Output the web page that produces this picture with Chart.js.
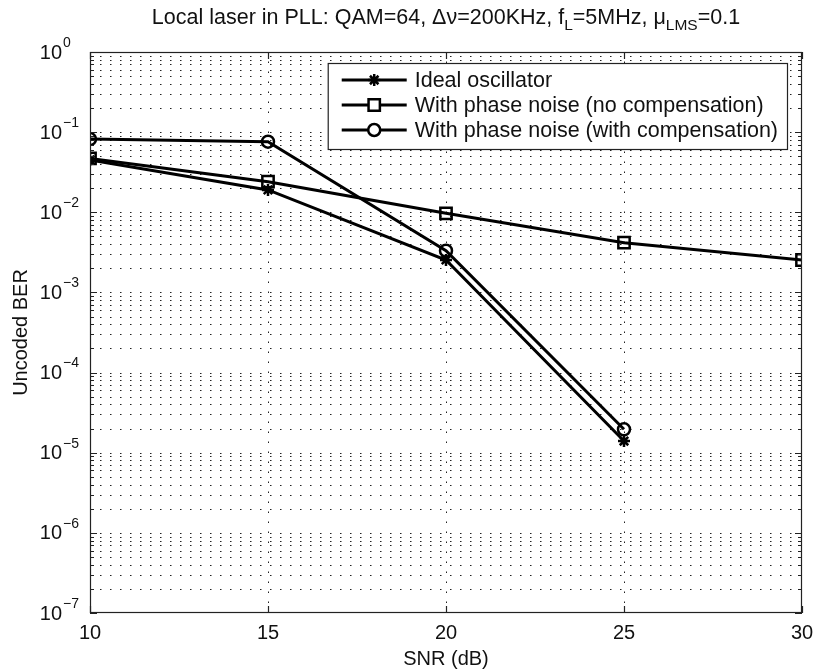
<!DOCTYPE html>
<html><head><meta charset="utf-8">
<script src="https://cdn.jsdelivr.net/npm/chart.js@4.4.0/dist/chart.umd.min.js"></script>
<style>html,body{margin:0;padding:0;background:#fff;}canvas{display:block;}</style>
</head><body>
<canvas id="c" width="816" height="672"></canvas>
<script>
// ---- data ----
const snr = [10, 15, 20, 25, 30];
const berIdeal = [0.045, 0.019, 0.00254, 0.000014, null];
const berNoComp = [0.047, 0.0241, 0.0097, 0.00418, 0.00254];
const berComp = [0.082, 0.076, 0.00332, 0.0000196, null];
const seriesLabels = ['Ideal oscillator', 'With phase noise (no compensation)', 'With phase noise (with compensation)'];
const xTicks = [10, 15, 20, 25, 30];
const yExponents = [-7, -6, -5, -4, -3, -2, -1, 0];
const titleParts = [
  {t: 'Local laser in PLL: QAM=64, \u0394\u03BD=200KHz, f'}, {t: 'L', sub: true},
  {t: '=5MHz, \u03BC'}, {t: 'LMS', sub: true}, {t: '=0.1'}
];
const xLabel = 'SNR (dB)';
const yLabel = 'Uncoded BER';

const FONT = '"Liberation Sans", Arial, Helvetica, sans-serif';
const pts = arr => snr.map((x, i) => ({x, y: arr[i]})).filter(p => p.y !== null);

function ds(label, arr, style, radius) {
  return {
    label, data: pts(arr), borderColor: '#000', borderWidth: 3, tension: 0,
    pointStyle: style, pointRadius: radius, pointBorderWidth: 2.5,
    pointBorderColor: '#000', pointBackgroundColor: 'rgba(0,0,0,0)', fill: false
  };
}

const matlabPlugin = {
  id: 'matlab',
  beforeDatasetsDraw(chart) {
    const {ctx, chartArea: a, scales: {x, y}} = chart;
    ctx.save();
    ctx.strokeStyle = '#222';
    ctx.lineWidth = 1;
    ctx.setLineDash([1.5, 8.5]);
    xTicks.forEach(v => {
      const px = Math.round(x.getPixelForValue(v)) + 0.5;
      if (px <= a.left + 1 || px >= a.right - 1) return;
      ctx.beginPath(); ctx.moveTo(px, a.bottom); ctx.lineTo(px, a.top); ctx.stroke();
    });
    yExponents.forEach(e => {
      for (let m = 1; m <= 9; m++) {
        if (e === 0 && m > 1) break;
        const v = m * Math.pow(10, e);
        const py = Math.round(y.getPixelForValue(v)) + 0.5;
        if (py <= a.top + 1 || py >= a.bottom - 1) continue;
        ctx.beginPath(); ctx.moveTo(a.left, py); ctx.lineTo(a.right, py); ctx.stroke();
      }
    });
    ctx.restore();
  },
  afterDatasetsDraw(chart) {
    const {ctx, chartArea: a, scales: {x, y}} = chart;
    ctx.save();
    ctx.setLineDash([]);
    ctx.strokeStyle = '#222';
    ctx.lineWidth = 1.2;
    ctx.strokeRect(a.left + 0.5, a.top + 0.5, a.right - a.left - 1, a.bottom - a.top - 1);
    ctx.beginPath();
    xTicks.forEach(v => {
      const px = Math.round(x.getPixelForValue(v)) + 0.5;
      ctx.moveTo(px, a.bottom); ctx.lineTo(px, a.bottom - 7);
      ctx.moveTo(px, a.top); ctx.lineTo(px, a.top + 7);
    });
    yExponents.forEach(e => {
      for (let m = 1; m <= 9; m++) {
        if (e === 0 && m > 1) break;
        const py = Math.round(y.getPixelForValue(m * Math.pow(10, e))) + 0.5;
        const len = m === 1 ? 7 : 4;
        ctx.moveTo(a.left, py); ctx.lineTo(a.left + len, py);
        ctx.moveTo(a.right, py); ctx.lineTo(a.right - len, py);
      }
    });
    ctx.stroke();

    ctx.fillStyle = '#111';
    ctx.font = '20px ' + FONT;
    ctx.textAlign = 'center'; ctx.textBaseline = 'middle';
    xTicks.forEach(v => ctx.fillText(String(v), x.getPixelForValue(v), a.bottom + 20));
    yExponents.forEach(e => {
      const py = y.getPixelForValue(Math.pow(10, e));
      ctx.font = '20px ' + FONT;
      ctx.textAlign = 'right'; ctx.textBaseline = 'middle';
      ctx.fillText('10', a.left - 28, py + 1);
      ctx.font = '14px ' + FONT;
      ctx.textAlign = 'left';
      ctx.fillText(e === 0 ? '0' : '\u2212' + Math.abs(e), a.left - 27, py - 9);
    });
    ctx.font = '20px ' + FONT;
    ctx.textAlign = 'center'; ctx.textBaseline = 'middle';
    ctx.fillText(xLabel, (a.left + a.right) / 2, a.bottom + 46);
    ctx.save();
    ctx.translate(21, (a.top + a.bottom) / 2);
    ctx.rotate(-Math.PI / 2);
    ctx.fillText(yLabel, 0, 0);
    ctx.restore();
    ctx.textBaseline = 'alphabetic'; ctx.textAlign = 'left';
    const big = '21.5px ' + FONT, small = '15.5px ' + FONT;
    let w = 0;
    titleParts.forEach(p => { ctx.font = p.sub ? small : big; w += ctx.measureText(p.t).width; });
    let tx = (a.left + a.right) / 2 - w / 2;
    titleParts.forEach(p => {
      ctx.font = p.sub ? small : big;
      ctx.fillText(p.t, tx, p.sub ? 30 : 24);
      tx += ctx.measureText(p.t).width;
    });
    ctx.font = '21.5px ' + FONT;
    let tw = 0;
    chart.data.datasets.forEach(d => { tw = Math.max(tw, ctx.measureText(d.label).width); });
    const padL = 14, lineLen = 65, gap = 8, padR = 9, rowH = 25;
    const bw = padL + lineLen + gap + tw + padR;
    const bx = a.right - 15 - bw, by = a.top + 11;
    const bh = rowH * chart.data.datasets.length + 11;
    ctx.fillStyle = '#fff';
    ctx.fillRect(bx, by, bw, bh);
    ctx.strokeStyle = '#222'; ctx.lineWidth = 1.2;
    ctx.strokeRect(bx + 0.5, by + 0.5, bw, bh);
    chart.data.datasets.forEach((d, i) => {
      const ry = by + 17 + i * rowH;
      ctx.strokeStyle = '#000'; ctx.lineWidth = 3;
      ctx.beginPath(); ctx.moveTo(bx + padL, ry); ctx.lineTo(bx + padL + lineLen, ry); ctx.stroke();
      ctx.fillStyle = '#fff';
      ctx.strokeStyle = '#000';
      ctx.lineWidth = d.pointBorderWidth;
      Chart.helpers.drawPoint(ctx, {pointStyle: d.pointStyle, radius: d.pointRadius, rotation: 0, borderWidth: d.pointBorderWidth}, bx + padL + lineLen / 2, ry);
      ctx.fillStyle = '#111';
      ctx.textAlign = 'left'; ctx.textBaseline = 'middle';
      ctx.fillText(d.label, bx + padL + lineLen + gap, ry + 1);
    });
    ctx.restore();
  }
};

new Chart(document.getElementById('c'), {
  type: 'line',
  data: {
    datasets: [
      ds(seriesLabels[0], berIdeal, 'star', 6),
      ds(seriesLabels[1], berNoComp, 'rect', 8),
      ds(seriesLabels[2], berComp, 'circle', 6)
    ]
  },
  options: {
    responsive: false, animation: false, devicePixelRatio: 1,
    layout: {padding: {top: 52, right: 14, left: 0, bottom: 0}},
    plugins: {legend: {display: false}, title: {display: false}, tooltip: {enabled: false}},
    scales: {
      x: {
        type: 'linear', min: 10, max: 30,
        afterBuildTicks: s => { s.ticks = xTicks.map(v => ({value: v})); },
        afterFit: s => { s.height = 59; },
        ticks: {display: false}, grid: {display: false}, border: {display: false}
      },
      y: {
        type: 'logarithmic', min: 1e-7, max: 1,
        afterBuildTicks: s => { s.ticks = yExponents.map(e => ({value: Math.pow(10, e)})); },
        afterFit: s => { s.width = 90; },
        ticks: {display: false}, grid: {display: false}, border: {display: false}
      }
    }
  },
  plugins: [matlabPlugin]
});
</script>
</body></html>
